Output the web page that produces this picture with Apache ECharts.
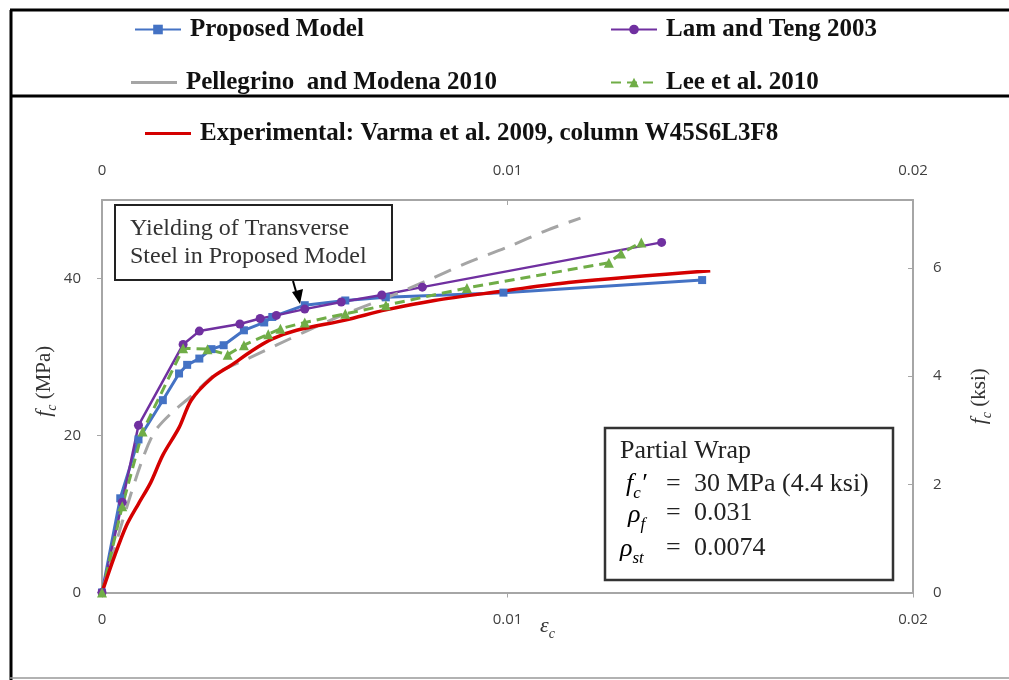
<!DOCTYPE html>
<html><head><meta charset="utf-8">
<script src="https://cdn.jsdelivr.net/npm/echarts@6/dist/echarts.min.js"></script>
<style>html,body{margin:0;padding:0;background:#fff}#c{width:1009px;height:680px}</style>
</head><body><div id="c"></div>
<script>
// ---- data (strain, stress in MPa) ----
const strainTicks = [0, 0.01, 0.02];
const mpaTicks = [0, 20, 40];
const ksiTicks = [0, 2, 4, 6];

const proposedStrain = [0, 0.00045, 0.0009, 0.0015, 0.0019, 0.0021, 0.0024, 0.0027, 0.003, 0.0035, 0.004, 0.0042, 0.005, 0.006, 0.007, 0.0099, 0.0148];
const proposedStress = [0, 12, 19.5, 24.5, 27.9, 29, 29.8, 31, 31.5, 33.4, 34.4, 35.1, 36.6, 37.2, 37.6, 38.2, 39.8];

const lamStrain = [0, 0.0005, 0.0009, 0.002, 0.0024, 0.0034, 0.0039, 0.0043, 0.005, 0.0059, 0.0069, 0.0079, 0.0138];
const lamStress = [0, 11.5, 21.3, 31.6, 33.3, 34.2, 34.9, 35.3, 36.1, 37, 37.9, 38.9, 44.6];

const pellegrinoStrain = [0, 0.0005, 0.001, 0.0013, 0.0017, 0.0022, 0.0028, 0.0036, 0.0043, 0.005, 0.006, 0.007, 0.008, 0.009, 0.01, 0.011, 0.0118];
const pellegrinoStress = [0, 9, 17, 20.5, 22.8, 25, 27.8, 29.8, 31.5, 33.2, 35.5, 37.5, 39.7, 42, 44, 46.2, 47.7];

const leeStrain = [0, 0.0005, 0.001, 0.002, 0.0026, 0.0031, 0.0035, 0.0041, 0.0044, 0.005, 0.006, 0.007, 0.009, 0.0125, 0.0128, 0.0133];
const leeStress = [0, 11, 20.5, 31.1, 31, 30.3, 31.5, 32.9, 33.6, 34.4, 35.5, 36.6, 38.8, 42, 43.2, 44.6];

const expStrain = [0, 0.0003, 0.0006, 0.0009, 0.0012, 0.0015, 0.0019, 0.0022, 0.0027, 0.0032, 0.0037, 0.0042, 0.0048, 0.006, 0.007, 0.0082, 0.0099, 0.0115, 0.015];
const expStress = [0, 4.5, 8.5, 11.3, 14, 17.5, 21, 24.5, 27.3, 29, 30.8, 32.3, 33.4, 34.7, 36, 37.2, 38.4, 39.5, 41];

const seriesNames = ['Proposed Model', 'Lam and Teng 2003', 'Pellegrino  and Modena 2010', 'Lee et al. 2010', 'Experimental: Varma et al. 2009, column W45S6L3F8'];

const MPA_PER_KSI = 6.89476;
const Y_MAX_MPA = 50;

function zip(a, b) { return a.map((v, i) => [v, b[i]]); }

const serif = 'Liberation Serif';
const sans = 'Open Sans';
const colors = { blue: '#4472C4', purple: '#7030A0', gray: '#A5A5A5', green: '#70AD47', red: '#D40000' };

const chart = echarts.init(document.getElementById('c'));

const legendText = { fontFamily: serif, fontWeight: 'bold', fontSize: 25, color: '#111', padding: [0, 0, 0, 4] };
function legendAt(name, left, top, plain) {
  const item = plain ? { name, icon: 'rect' } : { name };
  return { data: [item], left, top, itemWidth: 46, itemHeight: plain ? 3 : 12, textStyle: legendText, selectedMode: false };
}

const axisLbl = { fontFamily: sans, fontSize: 15, color: '#404040' };
const axisLineStyle = { onZero: false, lineStyle: { color: '#A6A6A6', width: 2 } };
const nameRich = {
  i: { fontFamily: serif, fontStyle: 'italic', fontSize: 22, color: '#333' },
  s: { fontFamily: serif, fontStyle: 'italic', fontSize: 14, color: '#333', verticalAlign: 'bottom', lineHeight: 30 },
  n: { fontFamily: serif, fontSize: 21, color: '#333' }
};

const infoRich = {
  i: { fontFamily: serif, fontStyle: 'italic', fontSize: 26, color: '#222' },
  s: { fontFamily: serif, fontStyle: 'italic', fontSize: 17, color: '#222', verticalAlign: 'bottom', lineHeight: 36 }
};
const boxFont = '26px "Liberation Serif"';

chart.setOption({
  animation: false,
  backgroundColor: '#fff',
  grid: { left: 102, right: 96, top: 200, bottom: 87.5, containLabel: false },
  legend: [
    legendAt(seriesNames[0], 129, 12),
    legendAt(seriesNames[1], 605, 12),
    legendAt(seriesNames[2], 126, 65, true),
    legendAt(seriesNames[3], 605, 65),
    legendAt(seriesNames[4], 140, 116, true)
  ],
  xAxis: [
    {
      type: 'value', position: 'bottom', min: strainTicks[0], max: strainTicks[strainTicks.length - 1], interval: strainTicks[1] - strainTicks[0],
      axisLine: axisLineStyle, axisTick: { show: true, length: 5, lineStyle: { color: '#A6A6A6' } }, splitLine: { show: false },
      axisLabel: Object.assign({ margin: 20 }, axisLbl),
      name: '{i|ε}{s|c}', nameLocation: 'middle', nameGap: 19, nameMoveOverlap: false,
      nameTextStyle: { rich: nameRich, padding: [0, 0, 0, 80] }
    },
    {
      type: 'value', position: 'top', min: strainTicks[0], max: strainTicks[strainTicks.length - 1], interval: strainTicks[1] - strainTicks[0],
      axisLine: axisLineStyle, axisTick: { show: true, inside: true, length: 5, lineStyle: { color: '#A6A6A6' } }, splitLine: { show: false },
      axisLabel: Object.assign({ margin: 22 }, axisLbl)
    }
  ],
  yAxis: [
    {
      type: 'value', position: 'left', min: 0, max: Y_MAX_MPA, interval: mpaTicks[1] - mpaTicks[0],
      axisLine: Object.assign({ show: true }, axisLineStyle), axisTick: { show: true, length: 5, lineStyle: { color: '#A6A6A6' } }, splitLine: { show: false },
      axisLabel: Object.assign({ margin: 21, showMaxLabel: false }, axisLbl),
      name: '{i|f}{s|c}{n| (MPa)}', nameLocation: 'middle', nameGap: 43, nameRotate: 90, nameMoveOverlap: false,
      nameTextStyle: { rich: nameRich, padding: [0, 0, 0, 30] }
    },
    {
      type: 'value', position: 'right', min: 0, max: Y_MAX_MPA / MPA_PER_KSI, interval: ksiTicks[1] - ksiTicks[0],
      axisLine: Object.assign({ show: true }, axisLineStyle), axisTick: { show: true, inside: true, length: 5, lineStyle: { color: '#A6A6A6' } }, splitLine: { show: false },
      axisLabel: Object.assign({ margin: 20, showMaxLabel: false }, axisLbl),
      name: '{i|f}{s|c}{n| (ksi)}', nameLocation: 'middle', nameGap: 51, nameRotate: 90, nameMoveOverlap: false,
      nameTextStyle: { rich: nameRich }
    }
  ],
  series: [
    { name: seriesNames[0], type: 'line', xAxisIndex: 0, yAxisIndex: 0, data: zip(proposedStrain, proposedStress),
      symbol: 'rect', symbolSize: 8, showAllSymbol: true, lineStyle: { color: colors.blue, width: 3 }, itemStyle: { color: colors.blue } },
    { name: seriesNames[1], type: 'line', data: zip(lamStrain, lamStress),
      symbol: 'circle', symbolSize: 9, showAllSymbol: true, lineStyle: { color: colors.purple, width: 2.5 }, itemStyle: { color: colors.purple } },
    { name: seriesNames[2], type: 'line', data: zip(pellegrinoStrain, pellegrinoStress), smooth: 0.3,
      symbol: 'none', lineStyle: { color: colors.gray, width: 3, type: [18, 11] }, itemStyle: { color: colors.gray } },
    { name: seriesNames[3], type: 'line', data: zip(leeStrain, leeStress),
      symbol: 'triangle', symbolSize: 10, showAllSymbol: true, lineStyle: { color: colors.green, width: 3, type: [10, 6] }, itemStyle: { color: colors.green } },
    { name: seriesNames[4], type: 'line', data: zip(expStrain, expStress), smooth: 0.3,
      symbol: 'none', lineStyle: { color: colors.red, width: 3.5 }, itemStyle: { color: colors.red } }
  ],
  graphic: [
    // outer frame
    { type: 'line', shape: { x1: 10, y1: 10, x2: 1009, y2: 10 }, style: { stroke: '#000', lineWidth: 3 } },
    { type: 'line', shape: { x1: 11, y1: 10, x2: 11, y2: 680 }, style: { stroke: '#000', lineWidth: 3 } },
    { type: 'line', shape: { x1: 10, y1: 96, x2: 1009, y2: 96 }, style: { stroke: '#000', lineWidth: 3 } },
    { type: 'line', shape: { x1: 10, y1: 678, x2: 1009, y2: 678 }, style: { stroke: '#999', lineWidth: 1.5 } },
    // annotation box
    { type: 'rect', shape: { x: 115, y: 205, width: 277, height: 75 }, style: { fill: '#fff', stroke: '#222', lineWidth: 2 }, z: 10 },
    { type: 'text', x: 130, y: 229, z: 11, style: { text: 'Yielding of Transverse', font: '24px "Liberation Serif"', fill: '#333', verticalAlign: 'middle' } },
    { type: 'text', x: 130, y: 257, z: 11, style: { text: 'Steel in Proposed Model', font: '24px "Liberation Serif"', fill: '#333', verticalAlign: 'middle' } },
    { type: 'line', z: 11, shape: { x1: 293, y1: 281, x2: 297, y2: 295 }, style: { stroke: '#000', lineWidth: 2 } },
    { type: 'polygon', z: 11, shape: { points: [[292, 292], [303, 289], [300, 304]] }, style: { fill: '#000' } },
    // info box
    { type: 'rect', shape: { x: 605, y: 428, width: 288, height: 152 }, style: { fill: '#fff', stroke: '#333', lineWidth: 2.5 }, z: 10 },
    { type: 'text', x: 620, y: 451, z: 11, style: { text: 'Partial Wrap', font: boxFont, fill: '#222', verticalAlign: 'middle' } },
    { type: 'text', x: 626, y: 484, z: 11, style: { text: '{i|f}{s|c}{i|′}', rich: infoRich, verticalAlign: 'middle' } },
    { type: 'text', x: 628, y: 515, z: 11, style: { text: '{i|ρ}{s|f}', rich: infoRich, verticalAlign: 'middle' } },
    { type: 'text', x: 620, y: 549, z: 11, style: { text: '{i|ρ}{s|st}', rich: infoRich, verticalAlign: 'middle' } },
    { type: 'text', x: 666, y: 484, z: 11, style: { text: '=', font: boxFont, fill: '#222', verticalAlign: 'middle' } },
    { type: 'text', x: 666, y: 513, z: 11, style: { text: '=', font: boxFont, fill: '#222', verticalAlign: 'middle' } },
    { type: 'text', x: 666, y: 548, z: 11, style: { text: '=', font: boxFont, fill: '#222', verticalAlign: 'middle' } },
    { type: 'text', x: 694, y: 484, z: 11, style: { text: '30 MPa (4.4 ksi)', font: boxFont, fill: '#222', verticalAlign: 'middle' } },
    { type: 'text', x: 694, y: 513, z: 11, style: { text: '0.031', font: boxFont, fill: '#222', verticalAlign: 'middle' } },
    { type: 'text', x: 694, y: 548, z: 11, style: { text: '0.0074', font: boxFont, fill: '#222', verticalAlign: 'middle' } }
  ]
});
</script>
</body></html>
